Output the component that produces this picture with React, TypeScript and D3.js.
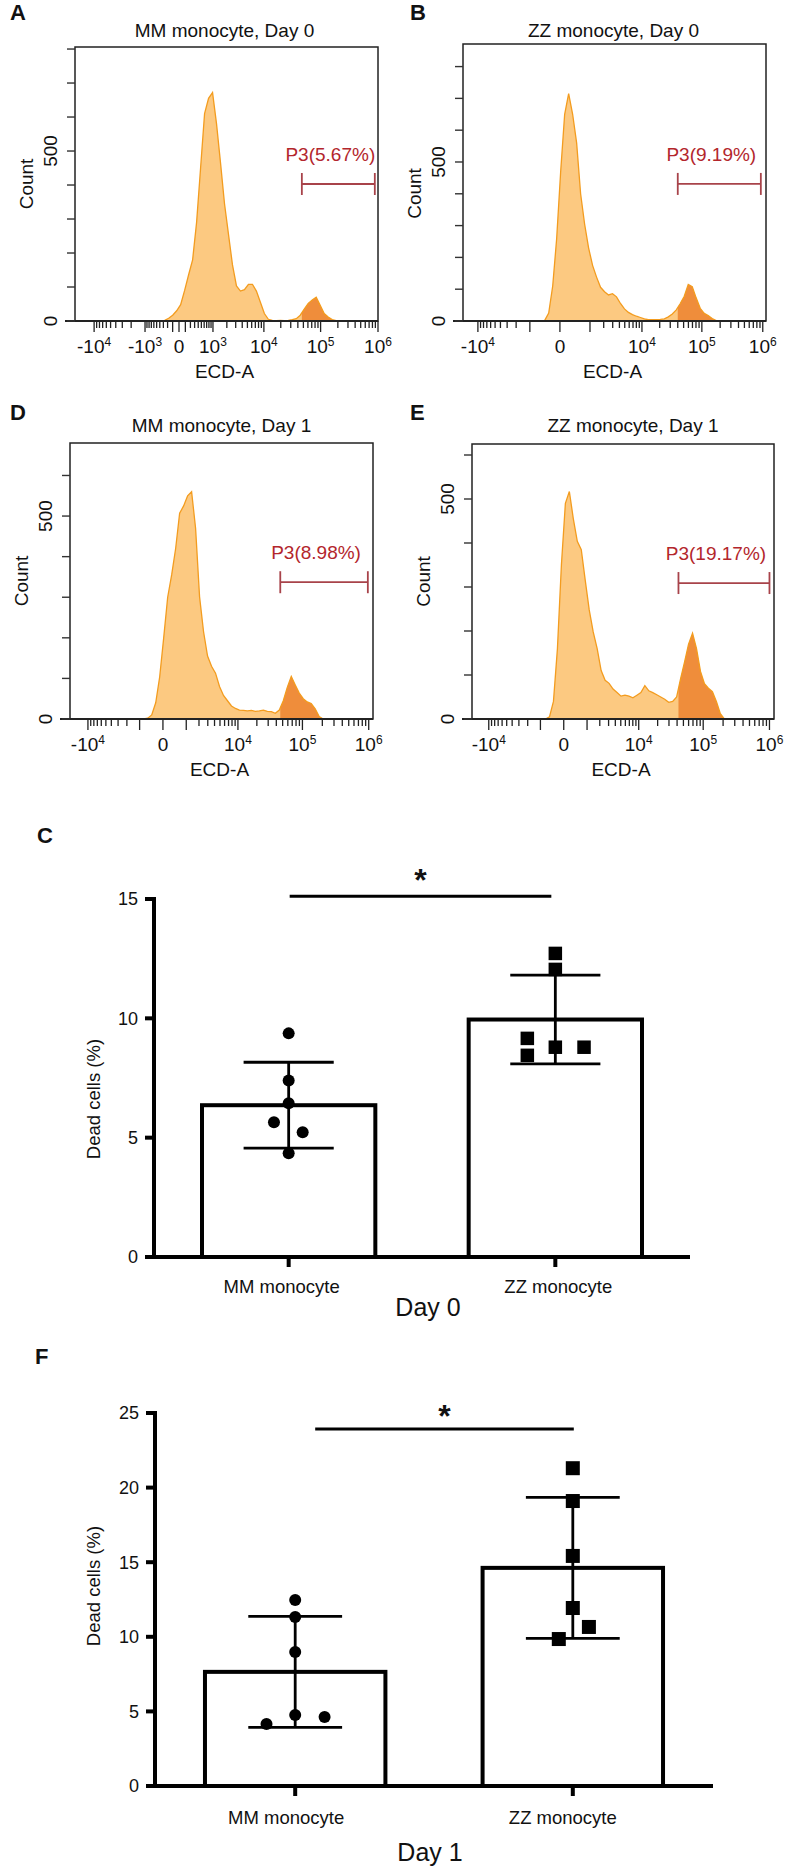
import React from "react";
import * as d3 from "d3";

const FONT = "'Liberation Sans', Arial, Helvetica, sans-serif";

// ---------- flow cytometry histograms: counts per display channel (76 channels over the plot width) ----------
const countsA = [
  0, 0, 0, 0, 0, 0, 0, 0, 0, 0, 0, 0, 0, 0, 0, 0, 0, 0, 0, 0,
  0, 0, 2, 8, 17, 30, 48, 90, 136, 180, 290, 450, 610, 655, 672, 580, 465, 345, 255, 165,
  103, 88, 92, 108, 108, 88, 55, 22, 5, 2, 1, 2, 1, 2, 4, 7, 17, 35, 52, 62,
  70, 46, 22, 12, 4, 1, 0, 0, 0, 0, 0, 0, 0, 0, 0, 0,
];
const countsB = [
  0, 0, 0, 0, 0, 0, 0, 0, 0, 0, 0, 0, 0, 0, 0, 0, 0, 0, 0, 0,
  2, 25, 110, 260, 470, 650, 715, 650, 560, 400, 305, 230, 175, 138, 106, 92, 82, 86, 76, 55,
  38, 27, 20, 15, 11, 7, 4, 4, 4, 5, 7, 13, 22, 35, 55, 78, 115, 108, 72, 40,
  24, 17, 8, 1, 0, 0, 0, 0, 0, 0, 0, 0, 0, 0, 0, 0,
];
const countsD = [
  0, 0, 0, 0, 0, 0, 0, 0, 0, 0, 0, 0, 0, 0, 0, 0, 0, 0, 0, 2,
  10, 40, 104, 200, 300, 355, 420, 507, 525, 550, 560, 470, 301, 215, 155, 130, 113, 80, 58, 45,
  32, 26, 22, 21, 20, 21, 19, 20, 22, 19, 18, 14, 22, 45, 78, 105, 84, 64, 50, 42,
  38, 25, 6, 0, 0, 0, 0, 0, 0, 0, 0, 0, 0, 0, 0, 0,
];
const countsE = [
  0, 0, 0, 0, 0, 0, 0, 0, 0, 0, 0, 0, 0, 0, 0, 0, 0, 0, 0, 5,
  40, 160, 350, 490, 517, 455, 404, 385, 315, 248, 198, 160, 110, 88, 81, 68, 60, 52, 54, 52,
  48, 54, 60, 76, 64, 60, 55, 50, 45, 38, 40, 50, 92, 130, 170, 195, 160, 108, 80, 70,
  62, 40, 12, 0, 0, 0, 0, 0, 0, 0, 0, 0, 0, 0, 0, 0,
];
const allCounts = [countsA, countsB, countsD, countsE];

const histLetters = ["A", "B", "D", "E"];
const histTitles = ["MM monocyte, Day 0", "ZZ monocyte, Day 0", "MM monocyte, Day 1", "ZZ monocyte, Day 1"];
const gateLabels = ["P3(5.67%)", "P3(9.19%)", "P3(8.98%)", "P3(19.17%)"];
const gateStart = [4.7e4, 4.0e4, 4.6e4, 4.2e4];
const gateEnd = [8.8e5, 9.3e5, 9.7e5, 1.0e6];
const gateLevel = [403, 431, 337, 309];
const countTop = [806, 871, 680, 625];
const countLabelled = [0, 500];
const ecdMin = [-2.19e4, -1.79e4, -1.93e4, -1.85e4];
const ecdMax = [1.0e6, 1.13e6, 1.16e6, 1.17e6];
const ecdConstant = [345, 474, 805, 805];
const ecdLabelsA = [-1e4, -1e3, 0, 1e3, 1e4, 1e5, 1e6];
const ecdLabelsOther = [-1e4, 0, 1e4, 1e5, 1e6];
const ecdMinorFrom = [2, 3, 3, 3];

// ---------- bar charts: dead cells (%) ----------
const groups = ["MM monocyte", "ZZ monocyte"];
const day0MM = [9.37, 7.4, 6.44, 5.65, 5.23, 4.35];
const day0ZZ = [12.72, 12.05, 9.16, 8.45, 8.79, 8.79];
const day0Mean = [6.36, 9.95];
const day0Sd = [1.8, 1.86];
const day1MM = [12.47, 11.33, 8.98, 4.76, 4.62, 4.16];
const day1ZZ = [21.3, 19.1, 15.42, 11.93, 10.66, 9.85];
const day1Mean = [7.65, 14.62];
const day1Sd = [3.72, 4.72];
const day0Ticks = [0, 5, 10, 15];
const day1Ticks = [0, 5, 10, 15, 20, 25];

// layout
const histBoxes = [
  [75, 378, 47, 321],
  [463, 766, 44, 321],
  [70, 373, 443, 719],
  [472, 774, 444, 719],
];
const histLetterPos = [[10, 20], [410, 20], [10, 420], [410, 420]];
const histTitleY = [37, 37, 432, 432];
const histTitleDx = [-2, -1, 0, 10];
const countLabelDy = [0, 11, 0, 0];
// horizontal spread of overlapping dots, in marker widths
const day0MMSpread = [0, 0, 0, -1.05, 1, 0];
const day0ZZSpread = [0, 0, -2, -2, 0, 2.05];
const day1MMSpread = [0, 0, 0, 0, 2.1, -2.05];
const day1ZZSpread = [0, 0, 0, 0, 1.15, -1];

const LIGHT = "#fcc981";
const EDGE = "#f39c1f";
const GATEFILL = "#ef8d3b";

function expLabel(v: number, key: string, x: number, y: number) {
  if (v === 0)
    return (
      <text key={key} x={x} y={y} textAnchor="middle" fontSize={19}>
        0
      </text>
    );
  const e = Math.round(Math.log10(Math.abs(v)));
  return (
    <text key={key} x={x} y={y} textAnchor="middle" fontSize={19}>
      {v < 0 ? "-" : ""}10
      <tspan dy={-7} fontSize={12}>
        {e}
      </tspan>
    </text>
  );
}

function HistPanel({ k }: { k: number }) {
  const [x0, x1, y0, y1] = histBoxes[k];
  const counts = allCounts[k];
  const x = d3.scaleSymlog().constant(ecdConstant[k]).domain([ecdMin[k], ecdMax[k]]).range([x0, x1]);
  const ch = d3.scaleLinear().domain([0, counts.length]).range([x0, x1]);
  const y = d3.scaleLinear().domain([0, countTop[k]]).range([y1, y0]);

  const pts: [number, number][] = counts.map((c, i) => [ch(i + 0.5), y(c)]);
  const area = d3
    .area<[number, number]>()
    .x((d) => d[0])
    .y0(y(0))
    .y1((d) => d[1]);
  const first = Math.max(0, counts.findIndex((c) => c > 0) - 1);
  let last = counts.length - 1;
  while (last > 0 && counts[last] === 0) last--;
  const edgePts = pts.slice(first, Math.min(counts.length, last + 2));
  const line = d3.line<[number, number]>().x((d) => d[0]).y((d) => d[1]);

  const tickVals: number[] = [0];
  for (let e = ecdMinorFrom[k]; e <= 6; e++)
    for (let m = 1; m <= 9; m++) tickVals.push(m * 10 ** e, -m * 10 ** e);
  const ticks = tickVals.filter((v) => v >= -1e4 && v <= 1e6 && v >= ecdMin[k] && v <= ecdMax[k]);
  const isMajor = (v: number) => v === 0 || Number.isInteger(Math.log10(Math.abs(v)));
  const labels = k === 0 ? ecdLabelsA : ecdLabelsOther;

  const gx0 = x(gateStart[k]);
  const gx1 = x(gateEnd[k]);
  const gy = y(gateLevel[k]);
  const cx = (x0 + x1) / 2;
  const [lx, ly] = histLetterPos[k];

  return (
    <g fontFamily={FONT} fill="#111">
      <text x={lx} y={ly} fontSize={22} fontWeight="bold">
        {histLetters[k]}
      </text>
      <text x={cx + histTitleDx[k]} y={histTitleY[k]} textAnchor="middle" fontSize={19}>
        {histTitles[k]}
      </text>
      <defs>
        <clipPath id={`gate-${k}`}>
          <rect x={gx0} y={y0} width={x1 - gx0} height={y1 - y0} />
        </clipPath>
      </defs>
      <path d={area(pts) || ""} fill={LIGHT} />
      <path d={area(pts) || ""} fill={GATEFILL} clipPath={`url(#gate-${k})`} />
      <path d={line(edgePts) || ""} fill="none" stroke={EDGE} strokeWidth={1.3} />
      <rect x={x0} y={y0} width={x1 - x0} height={y1 - y0} fill="none" stroke="#222" strokeWidth={1.5} />
      <line x1={x0 - 10} x2={x1} y1={y1} y2={y1} stroke="#222" strokeWidth={2} />
      {d3.range(0, countTop[k] + 1, 100).map((v) => (
        <line key={v} x1={x0 - 8} x2={x0} y1={y(v)} y2={y(v)} stroke="#333" strokeWidth={1.4} />
      ))}
      {countLabelled.map((v) => (
        <text
          key={v}
          transform={`translate(${x0 - 18},${y(v)}) rotate(-90)`}
          textAnchor="middle"
          fontSize={19}
        >
          {v}
        </text>
      ))}
      <text
        transform={`translate(${x0 - 42},${(y0 + y1) / 2 + countLabelDy[k]}) rotate(-90)`}
        textAnchor="middle"
        fontSize={19}
      >
        Count
      </text>
      {ticks.map((v) => (
        <line
          key={v}
          x1={x(v)}
          x2={x(v)}
          y1={y1}
          y2={y1 + (isMajor(v) ? 11 : 7)}
          stroke="#222"
          strokeWidth={1.3}
        />
      ))}
      {labels.map((v) => expLabel(v, `l${v}`, x(v), y1 + 32))}
      <text x={cx - 2} y={y1 + 57} textAnchor="middle" fontSize={19}>
        ECD-A
      </text>
      <g stroke="#a8434a" strokeWidth={1.8}>
        <line x1={gx0} x2={gx1} y1={gy} y2={gy} />
        <line x1={gx0} x2={gx0} y1={gy - 11} y2={gy + 11} />
        <line x1={gx1} x2={gx1} y1={gy - 11} y2={gy + 11} />
      </g>
      <text x={(gx0 + gx1) / 2 - 8} y={gy - 23} textAnchor="middle" fontSize={19} fill="#b3262c">
        {gateLabels[k]}
      </text>
    </g>
  );
}

type BarCfg = {
  letter: string;
  letterPos: [number, number];
  xRange: [number, number];
  yRange: [number, number];
  yMax: number;
  ticks: number[];
  mm: number[];
  zz: number[];
  mmSpread: number[];
  zzSpread: number[];
  means: number[];
  sds: number[];
  sigLevel: number;
  sigDx: [number, number];
  starDy: number;
  labelDx: [number, number];
  labelY: number;
  day: string;
  dayX: number;
  dayY: number;
  yLabelY: number;
  square: number;
};

function BarPanel({ c }: { c: BarCfg }) {
  const x = d3.scaleBand().domain(groups).range(c.xRange).paddingInner(0.35).paddingOuter(0.18);
  const y = d3.scaleLinear().domain([0, c.yMax]).range(c.yRange);
  const bw = x.bandwidth();
  const mid = (g: string) => (x(g) as number) + bw / 2;
  const axisX = c.xRange[0];
  const cap = bw * 0.26;
  const unit = 14;
  const sx0 = mid(groups[0]) + c.sigDx[0];
  const sx1 = mid(groups[1]) + c.sigDx[1];
  const sy = y(c.sigLevel);

  return (
    <g fontFamily={FONT} fill="#111">
      <text x={c.letterPos[0]} y={c.letterPos[1]} fontSize={22} fontWeight="bold">
        {c.letter}
      </text>
      {groups.map((g, i) => (
        <rect
          key={g}
          x={x(g)}
          y={y(c.means[i])}
          width={bw}
          height={y(0) - y(c.means[i])}
          fill="#fff"
          stroke="#000"
          strokeWidth={4}
        />
      ))}
      <line x1={axisX} x2={axisX} y1={y(c.yMax) - 2} y2={y(0)} stroke="#000" strokeWidth={4} />
      <line x1={axisX - 9} x2={c.xRange[1]} y1={y(0)} y2={y(0)} stroke="#000" strokeWidth={4} />
      {c.ticks.map((t) => (
        <g key={t}>
          <line x1={axisX - 9} x2={axisX} y1={y(t)} y2={y(t)} stroke="#000" strokeWidth={4} />
          <text x={axisX - 16} y={y(t)} dy="0.35em" textAnchor="end" fontSize={18}>
            {t}
          </text>
        </g>
      ))}
      {groups.map((g) => (
        <line key={g} x1={mid(g)} x2={mid(g)} y1={y(0)} y2={y(0) + 10} stroke="#000" strokeWidth={4} />
      ))}
      {groups.map((g, i) => {
        const m = mid(g);
        const top = y(c.means[i] + c.sds[i]);
        const bot = y(c.means[i] - c.sds[i]);
        return (
          <g key={g} stroke="#000" strokeWidth={2.8}>
            <line x1={m} x2={m} y1={top} y2={bot} />
            <line x1={m - cap} x2={m + cap} y1={top} y2={top} />
            <line x1={m - cap} x2={m + cap} y1={bot} y2={bot} />
          </g>
        );
      })}
      {c.mm.map((v, i) => (
        <circle key={i} cx={mid(groups[0]) + c.mmSpread[i] * unit} cy={y(v)} r={6} fill="#000" />
      ))}
      {c.zz.map((v, i) => (
        <rect
          key={i}
          x={mid(groups[1]) + c.zzSpread[i] * unit - c.square / 2}
          y={y(v) - c.square / 2}
          width={c.square}
          height={c.square}
          fill="#000"
        />
      ))}
      <line x1={sx0} x2={sx1} y1={sy} y2={sy} stroke="#000" strokeWidth={3} />
      <text x={(sx0 + sx1) / 2} y={sy + c.starDy} textAnchor="middle" fontSize={32} fontWeight="bold">
        *
      </text>
      <text transform={`translate(100,${c.yLabelY}) rotate(-90)`} textAnchor="middle" fontSize={18.5}>
        Dead cells (%)
      </text>
      {groups.map((g, i) => (
        <text key={g} x={mid(g) + c.labelDx[i]} y={c.labelY} textAnchor="middle" fontSize={18.5}>
          {g}
        </text>
      ))}
      <text x={c.dayX} y={c.dayY} textAnchor="middle" fontSize={25}>
        {c.day}
      </text>
    </g>
  );
}

const day0Cfg: BarCfg = {
  letter: "C",
  letterPos: [37, 843],
  xRange: [154, 690],
  yRange: [1257, 899],
  yMax: 15,
  ticks: day0Ticks,
  mm: day0MM,
  zz: day0ZZ,
  mmSpread: day0MMSpread,
  zzSpread: day0ZZSpread,
  means: day0Mean,
  sds: day0Sd,
  sigLevel: 15.12,
  sigDx: [1, -4],
  starDy: -5,
  labelDx: [-7, 3],
  labelY: 1293,
  day: "Day 0",
  dayX: 428,
  dayY: 1316,
  yLabelY: 1099,
  square: 13.5,
};

const day1Cfg: BarCfg = {
  letter: "F",
  letterPos: [35, 1364],
  xRange: [155, 713],
  yRange: [1786, 1413],
  yMax: 25,
  ticks: day1Ticks,
  mm: day1MM,
  zz: day1ZZ,
  mmSpread: day1MMSpread,
  zzSpread: day1ZZSpread,
  means: day1Mean,
  sds: day1Sd,
  sigLevel: 23.93,
  sigDx: [20, 1],
  starDy: -2,
  labelDx: [-9, -10],
  labelY: 1824,
  day: "Day 1",
  dayX: 430,
  dayY: 1861,
  yLabelY: 1586,
  square: 14,
};

export default function App() {
  return (
    <svg
      width={789}
      height={1867}
      viewBox="0 0 789 1867"
      style={{ position: "absolute", left: 0, top: 0, display: "block", background: "#fff" }}
    >
      {[0, 1, 2, 3].map((k) => (
        <HistPanel key={k} k={k} />
      ))}
      <BarPanel c={day0Cfg} />
      <BarPanel c={day1Cfg} />
    </svg>
  );
}
